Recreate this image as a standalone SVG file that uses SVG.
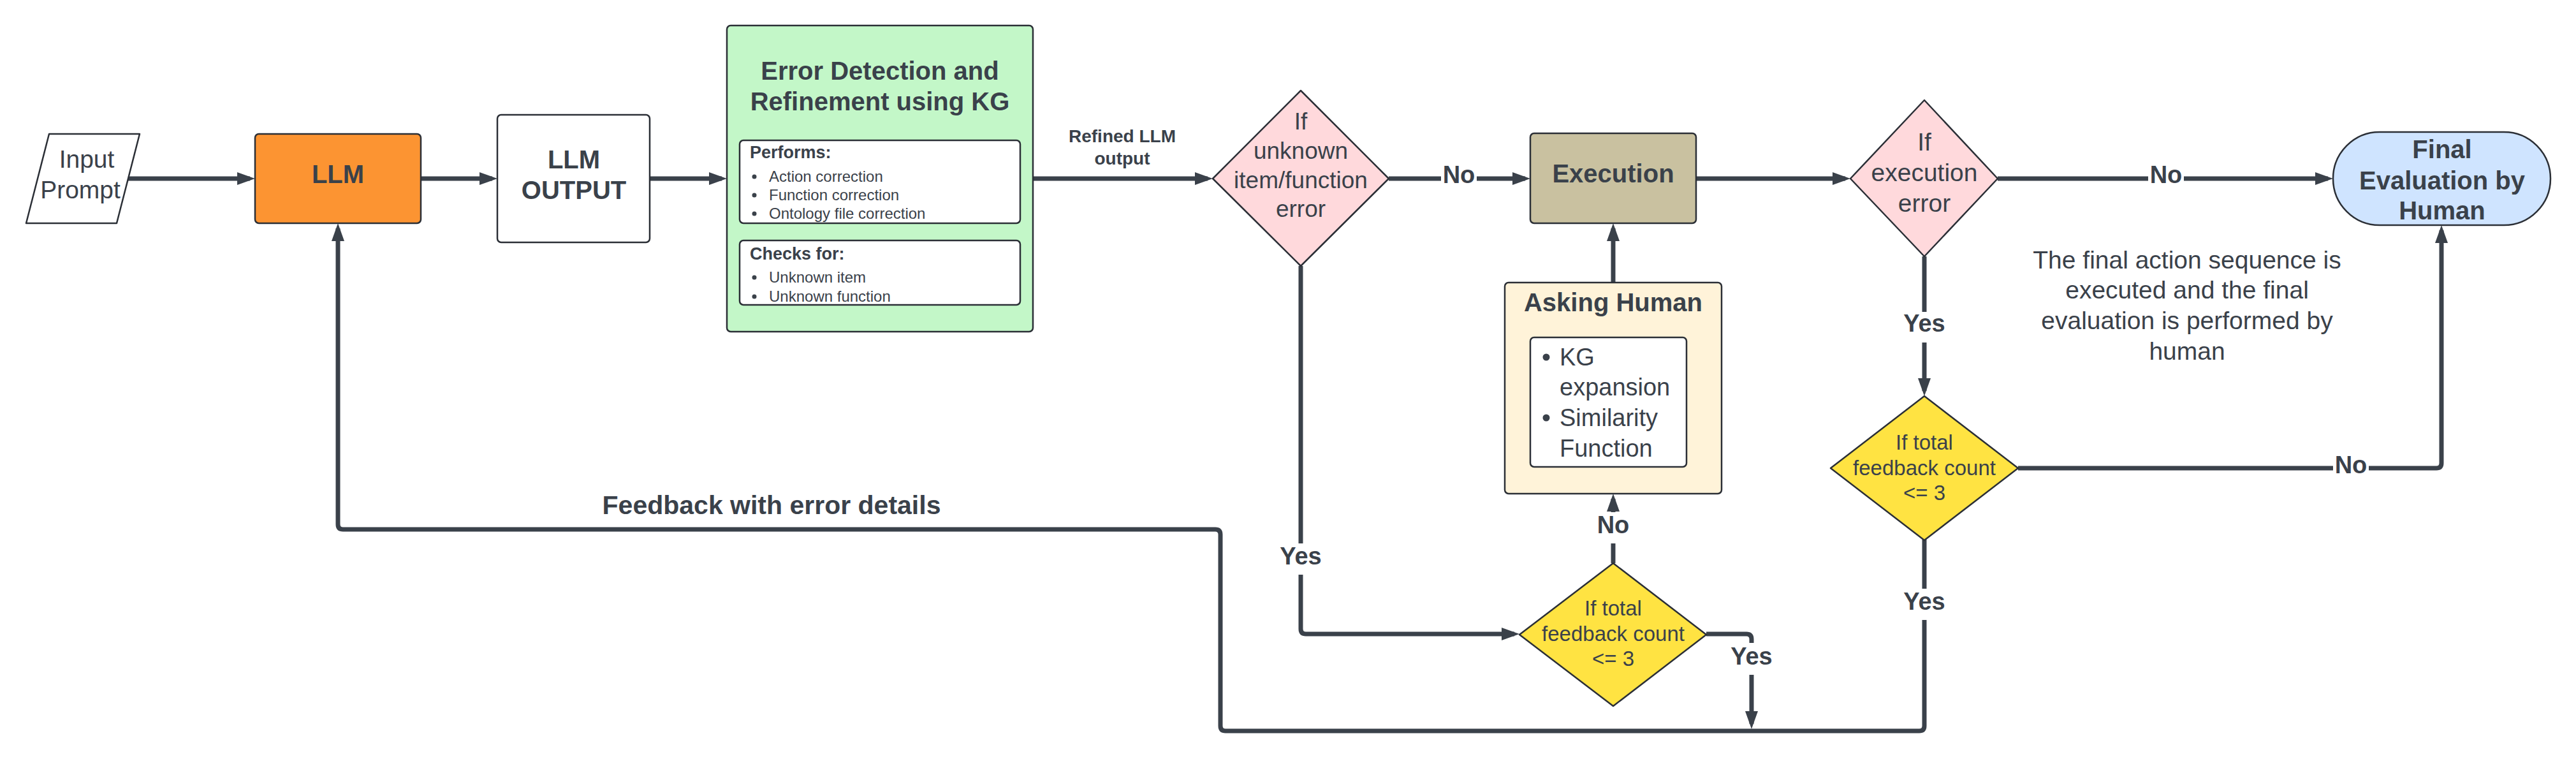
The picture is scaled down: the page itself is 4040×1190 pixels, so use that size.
<svg xmlns="http://www.w3.org/2000/svg" width="4040" height="1190" viewBox="0 0 4040 1190">
<style>
.t{font-family:"Liberation Sans",Arial,sans-serif;fill:#3a414a}
.b{font-weight:bold}
.m{text-anchor:middle}
.s{stroke:#2b2f36;stroke-width:2.5}
.c{fill:none;stroke:#3a414a;stroke-width:7}
.lbl{fill:#ffffff}
</style>
<defs>
<marker id="ah" markerUnits="userSpaceOnUse" markerWidth="28" markerHeight="20" refX="20" refY="10" orient="auto">
<path d="M0,0 L28,10 L0,20 z" fill="#3a414a"/>
</marker>
</defs>
<rect width="4040" height="1190" fill="#ffffff"/>

<g id="connectors">
<path class="c" d="M201,280 H392" marker-end="url(#ah)"/>
<path class="c" d="M660,280 H772" marker-end="url(#ah)"/>
<path class="c" d="M1019,280 H1132" marker-end="url(#ah)"/>
<path class="c" d="M1620,280 H1894" marker-end="url(#ah)"/>
<path class="c" d="M2178,280 H2392" marker-end="url(#ah)"/>
<path class="c" d="M2660,280 H2894" marker-end="url(#ah)"/>
<path class="c" d="M3133,280 H3651" marker-end="url(#ah)"/>
<path class="c" d="M3018,402 V613" marker-end="url(#ah)"/>
<path class="c" d="M3165,734 H3821 Q3829,734 3829,726 V361" marker-end="url(#ah)"/>
<path class="c" d="M3018,846 V1138 Q3018,1146 3010,1146 H1922 Q1914,1146 1914,1138 V838 Q1914,830 1906,830 H538 Q530,830 530,822 V358" marker-end="url(#ah)"/>
<path class="c" d="M2040,417 V986 Q2040,994 2048,994 H2375" marker-end="url(#ah)"/>
<path class="c" d="M2530,883 V782" marker-end="url(#ah)"/>
<path class="c" d="M2676,994 H2739 Q2747,994 2747,1002 V1135" marker-end="url(#ah)"/>
<path class="c" d="M2530,443 V358" marker-end="url(#ah)"/>

<rect class="lbl" x="2260" y="256" width="56" height="36"/>
<text class="t b m" x="2288" y="287" font-size="38">No</text>
<rect class="lbl" x="3369" y="256" width="56" height="36"/>
<text class="t b m" x="3397" y="287" font-size="38">No</text>
<rect class="lbl" x="3659" y="712" width="56" height="36"/>
<text class="t b m" x="3687" y="742" font-size="38">No</text>
<rect class="lbl" x="2980" y="489" width="76" height="48"/>
<text class="t b m" x="3018" y="520" font-size="38">Yes</text>
<rect class="lbl" x="2980" y="923" width="76" height="49"/>
<text class="t b m" x="3018" y="956" font-size="38">Yes</text>
<rect class="lbl" x="2002" y="852" width="76" height="49"/>
<text class="t b m" x="2040" y="885" font-size="38">Yes</text>
<rect class="lbl" x="2500" y="803" width="60" height="49"/>
<text class="t b m" x="2530" y="836" font-size="38">No</text>
<rect class="lbl" x="2709" y="1008" width="76" height="50"/>
<text class="t b m" x="2747" y="1042" font-size="38">Yes</text>
<text class="t b m" x="1760" y="223" font-size="28">Refined LLM</text>
<text class="t b m" x="1760" y="258" font-size="28">output</text>
<text class="t b m" x="1210" y="806" font-size="41">Feedback with error details</text>
</g>

<g id="input-prompt">
<path class="s" d="M77,210 L219,210 L183,350 L41,350 Z" fill="#ffffff" stroke-linejoin="round"/>
<text class="t m" x="136" y="263" font-size="39">Input</text>
<text class="t m" x="126" y="311" font-size="39">Prompt</text>
</g>

<g id="llm">
<rect class="s" x="400" y="210" width="260" height="140" rx="6" fill="#fc9432"/>
<text class="t b m" x="530" y="287" font-size="40">LLM</text>
</g>

<g id="llm-output">
<rect class="s" x="780" y="180" width="239" height="200" rx="6" fill="#ffffff"/>
<text class="t b m" x="900" y="264" font-size="40">LLM</text>
<text class="t b m" x="900" y="312" font-size="40">OUTPUT</text>
</g>

<g id="error-detection">
<rect class="s" x="1140" y="40" width="480" height="480" rx="6" fill="#c3f7c8"/>
<text class="t b m" x="1380" y="125" font-size="40">Error Detection and</text>
<text class="t b m" x="1380" y="173" font-size="40">Refinement using KG</text>
<rect class="s" x="1160" y="220" width="440" height="130" rx="6" fill="#ffffff"/>
<text class="t b" x="1176" y="248" font-size="27">Performs:</text>
<circle cx="1183" cy="277" r="3.5" fill="#3a414a"/>
<text class="t" x="1206" y="285" font-size="24">Action correction</text>
<circle cx="1183" cy="306" r="3.5" fill="#3a414a"/>
<text class="t" x="1206" y="314" font-size="24">Function correction</text>
<circle cx="1183" cy="335" r="3.5" fill="#3a414a"/>
<text class="t" x="1206" y="343" font-size="24">Ontology file correction</text>
<rect class="s" x="1160" y="377" width="440" height="101" rx="6" fill="#ffffff"/>
<text class="t b" x="1176" y="407" font-size="27">Checks for:</text>
<circle cx="1183" cy="435" r="3.5" fill="#3a414a"/>
<text class="t" x="1206" y="443" font-size="24">Unknown item</text>
<circle cx="1183" cy="465" r="3.5" fill="#3a414a"/>
<text class="t" x="1206" y="473" font-size="24">Unknown function</text>
</g>

<g id="decision-unknown">
<path class="s" d="M2040,142 L2178,280 L2040,417 L1902,280 Z" fill="#ffd9dc" stroke-linejoin="round"/>
<text class="t m" x="2040" y="203" font-size="37">If</text>
<text class="t m" x="2040" y="249" font-size="37">unknown</text>
<text class="t m" x="2040" y="295" font-size="37">item/function</text>
<text class="t m" x="2040" y="340" font-size="37">error</text>
</g>

<g id="execution">
<rect class="s" x="2400" y="209" width="260" height="141" rx="6" fill="#c9c1a0"/>
<text class="t b m" x="2530" y="286" font-size="40">Execution</text>
</g>

<g id="asking-human">
<rect class="s" x="2360" y="443" width="340" height="331" rx="6" fill="#fff3d9"/>
<text class="t b m" x="2530" y="488" font-size="40">Asking Human</text>
<rect class="s" x="2400" y="529" width="245" height="203" rx="6" fill="#ffffff"/>
<circle cx="2425" cy="560" r="5.5" fill="#3a414a"/>
<text class="t" x="2446" y="573" font-size="38">KG</text>
<text class="t" x="2446" y="620" font-size="38">expansion</text>
<circle cx="2425" cy="655" r="5.5" fill="#3a414a"/>
<text class="t" x="2446" y="668" font-size="38">Similarity</text>
<text class="t" x="2446" y="716" font-size="38">Function</text>
</g>

<g id="decision-feedback-1">
<path class="s" d="M2530,883 L2676,995 L2530,1107 L2383,995 Z" fill="#ffe342" stroke-linejoin="round"/>
<text class="t m" x="2530" y="965" font-size="33">If total</text>
<text class="t m" x="2530" y="1005" font-size="33">feedback count</text>
<text class="t m" x="2530" y="1044" font-size="33">&lt;= 3</text>
</g>

<g id="decision-execution">
<path class="s" d="M3018,157 L3133,280 L3018,402 L2902,280 Z" fill="#ffd9dc" stroke-linejoin="round"/>
<text class="t m" x="3018" y="236" font-size="39">If</text>
<text class="t m" x="3018" y="284" font-size="39">execution</text>
<text class="t m" x="3018" y="332" font-size="39">error</text>
</g>

<g id="decision-feedback-2">
<path class="s" d="M3018,621 L3165,734 L3018,847 L2871,734 Z" fill="#ffe342" stroke-linejoin="round"/>
<text class="t m" x="3018" y="705" font-size="33">If total</text>
<text class="t m" x="3018" y="745" font-size="33">feedback count</text>
<text class="t m" x="3018" y="784" font-size="33">&lt;= 3</text>
</g>

<g id="final-evaluation">
<rect class="s" x="3659" y="207" width="341" height="146" rx="73" fill="#cfe4ff"/>
<text class="t b m" x="3830" y="248" font-size="40">Final</text>
<text class="t b m" x="3830" y="297" font-size="40">Evaluation by</text>
<text class="t b m" x="3830" y="344" font-size="40">Human</text>
</g>

<g id="note">
<text class="t m" x="3430" y="421" font-size="39">The final action sequence is</text>
<text class="t m" x="3430" y="468" font-size="39">executed and the final</text>
<text class="t m" x="3430" y="516" font-size="39">evaluation is performed by</text>
<text class="t m" x="3430" y="564" font-size="39">human</text>
</g>
</svg>
